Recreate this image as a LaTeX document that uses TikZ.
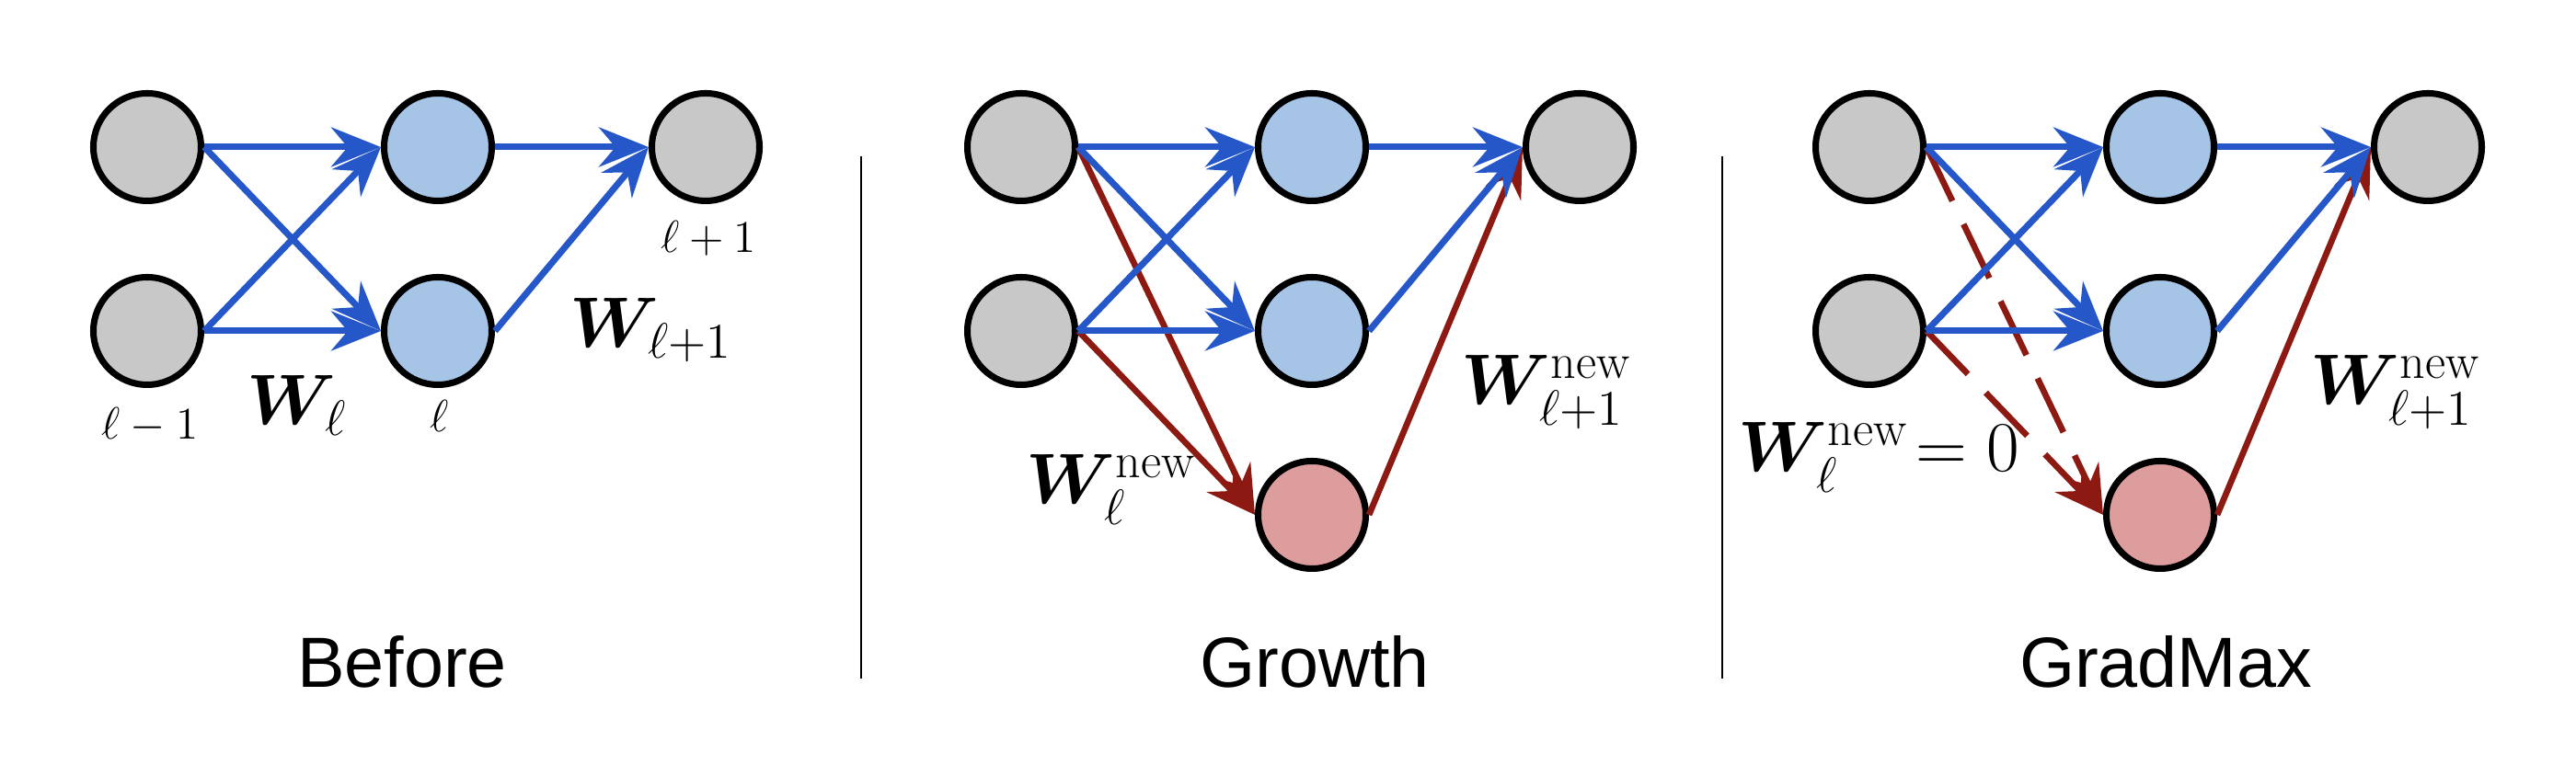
\RequirePackage{fix-cm}
\documentclass[tikz,border=0pt]{standalone}
\usepackage{amsmath, amssymb}
\usepackage{fontspec}
\setsansfont{Liberation Sans}
\usepackage{tikz}
\usetikzlibrary{positioning}
\usetikzlibrary{arrows.meta}
\usepackage{xcolor}
\DeclareMathAlphabet{\mathbfit}{OML}{cmm}{b}{it}
\definecolor{nodegray}{RGB}{200,200,200}
\definecolor{nodeblue}{RGB}{166,196,230}
\definecolor{nodered}{RGB}{222,157,157}
\definecolor{wireblue}{RGB}{38,87,200}
\definecolor{wirered}{RGB}{140,25,18}

\begin{document}
\begin{tikzpicture}[
  node distance=2cm, on grid,
  unit/.style={circle, draw, line width=2pt, minimum size=1.17cm, inner sep=0pt},
  old/.style={unit, fill=nodegray},
  hid/.style={unit, fill=nodeblue},
  grown/.style={unit, fill=nodered},
  wire/.style={-{Stealth[length=5.4mm, width=4.3mm, inset=1.8mm]}, line width=2pt, draw=wireblue},
  newwire/.style={-{Stealth[length=5.4mm, width=4.1mm, inset=1.8mm]}, line width=1.9pt, draw=wirered},
  zerowire/.style={newwire, dash pattern=on 6.5mm off 2.8mm},
  lab/.style={font=\fontsize{14}{17}\selectfont, anchor=base},
  wlab/.style={font=\fontsize{22}{26}\selectfont, anchor=base west, inner sep=0pt},
  paneltitle/.style={font=\sffamily\fontsize{22}{26}\selectfont, anchor=base},
  divider/.style={line width=0.8pt}
]
\useasboundingbox (0,0) rectangle (28,8.44);

% --- Before ---
\node[old] (a1) at (1.60,6.84) {};
\node[old, below=of a1] (a2) {};
\node[hid, right=3.16cm of a1] (b1) {};
\node[hid, below=of b1] (b2) {};
\node[old, right=2.91cm of b1] (c1) {};

\draw[wire] (a1.east) -- (b1.west);
\draw[wire] (a1.east) -- (b2.west);
\draw[wire] (a2.east) -- (b1.west);
\draw[wire] (a2.east) -- (b2.west);
\draw[wire] (b1.east) -- (c1.west);
\draw[wire] (b2.east) -- (c1.west);

\node[lab] (l0) at (1.63,3.66) {$\ell-1$};
\node[lab] (l1) at (4.78,3.74) {$\ell$};
\node[lab] (l2) at (7.70,5.69) {$\ell+1$};
\node[wlab] (w1) at (2.68,3.82) {$\mathbfit{W}_{\ell}$};
\node[wlab] (w2) at (6.19,4.66) {$\mathbfit{W}_{\ell+1}$};

\node[paneltitle] (t1) at (4.37,0.96) {Before};

% --- Growth ---
\node[old] (ga1) at (11.10,6.84) {};
\node[old, below=of ga1] (ga2) {};
\node[hid, right=3.16cm of ga1] (gb1) {};
\node[hid, below=of gb1] (gb2) {};
\node[grown, below=of gb2] (gn) {};
\node[old, right=2.91cm of gb1] (gc1) {};

\draw[newwire] (ga1.east) -- (gn.west);
\draw[newwire] (ga2.east) -- (gn.west);
\draw[newwire] (gn.east) -- (gc1.west);
\draw[wire] (ga1.east) -- (gb1.west);
\draw[wire] (ga1.east) -- (gb2.west);
\draw[wire] (ga2.east) -- (gb1.west);
\draw[wire] (ga2.east) -- (gb2.west);
\draw[wire] (gb1.east) -- (gc1.west);
\draw[wire] (gb2.east) -- (gc1.west);

\node[wlab] (gw1) at (11.15,2.96) {$\mathbfit{W}_{\ell}^{\mathrm{new}}$};
\node[wlab] (gw2) at (15.88,4.04) {$\mathbfit{W}_{\ell+1}^{\mathrm{new}}$};

\node[paneltitle] (t2) at (14.29,0.96) {Growth};

% --- GradMax ---
\node[old] (ma1) at (20.32,6.84) {};
\node[old, below=of ma1] (ma2) {};
\node[hid, right=3.16cm of ma1] (mb1) {};
\node[hid, below=of mb1] (mb2) {};
\node[grown, below=of mb2] (mn) {};
\node[old, right=2.91cm of mb1] (mc1) {};

\draw[zerowire] (ma1.east) -- (mn.west);
\draw[zerowire] (ma2.east) -- (mn.west);
\draw[newwire] (mn.east) -- (mc1.west);
\draw[wire] (ma1.east) -- (mb1.west);
\draw[wire] (ma1.east) -- (mb2.west);
\draw[wire] (ma2.east) -- (mb1.west);
\draw[wire] (ma2.east) -- (mb2.west);
\draw[wire] (mb1.east) -- (mc1.west);
\draw[wire] (mb2.east) -- (mc1.west);

\node[wlab] (mw1) at (18.89,3.31) {$\mathbfit{W}_{\ell}^{\mathrm{new}}\!=0$};
\node[wlab] (mw2) at (25.11,4.04) {$\mathbfit{W}_{\ell+1}^{\mathrm{new}}$};

\node[paneltitle] (t3) at (23.54,0.96) {GradMax};

% --- Panel dividers ---
\coordinate (d1top) at (9.36,6.74);
\coordinate (d1bot) at (9.36,1.06);
\coordinate (d2top) at (18.72,6.74);
\coordinate (d2bot) at (18.72,1.06);
\draw[divider] (d1top) -- (d1bot);
\draw[divider] (d2top) -- (d2bot);

\end{tikzpicture}
\end{document}
